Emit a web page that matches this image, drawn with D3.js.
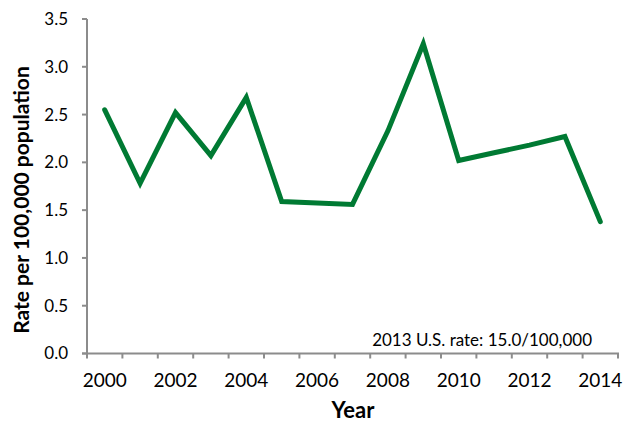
<!DOCTYPE html>
<html>
<head>
<meta charset="utf-8">
<script src="https://cdn.jsdelivr.net/npm/d3@7"></script>
<style>
  body { margin: 0; background: #fff; }
  text { font-family: Lato, "Open Sans", sans-serif; fill: #000; }
</style>
</head>
<body>
<svg id="chart" width="634" height="423"></svg>
<script>
'use strict';

var years = [2000, 2001, 2002, 2003, 2004, 2005, 2006, 2007, 2008, 2009, 2010, 2011, 2012, 2013, 2014];
var rates = [2.55, 1.78, 2.52, 2.07, 2.68, 1.59, 1.575, 1.56, 2.33, 3.24, 2.02, 2.10, 2.18, 2.27, 1.38];
var yTicks = [0, 0.5, 1.0, 1.5, 2.0, 2.5, 3.0, 3.5];
var xLabelYears = [2000, 2002, 2004, 2006, 2008, 2010, 2012, 2014];
var note = '2013 U.S. rate: 15.0/100,000';

var svg = d3.select('#chart');
var axisColor = '#8c8c8c';

var x = d3.scaleBand()
    .domain(years)
    .range([87, 618]);

var y = d3.scaleLinear()
    .domain([0, 3.5])
    .range([353.5, 19]);

// y axis
var yAxis = svg.append('g');
yAxis.append('line')
    .attr('x1', x.range()[0]).attr('x2', x.range()[0])
    .attr('y1', y(0)).attr('y2', y(3.5))
    .attr('stroke', axisColor).attr('stroke-width', 2);
yAxis.selectAll('line.tick')
    .data(yTicks)
    .enter()
    .append('line')
    .attr('class', 'tick')
    .attr('x1', x.range()[0] - 5).attr('x2', x.range()[0])
    .attr('y1', function (d) { return y(d); })
    .attr('y2', function (d) { return y(d); })
    .attr('stroke', axisColor).attr('stroke-width', 2);
yAxis.selectAll('text')
    .data(yTicks)
    .enter()
    .append('text')
    .attr('x', 68)
    .attr('y', function (d) { return y(d); })
    .attr('dy', '0.35em')
    .attr('text-anchor', 'end')
    .style('font-size', '17px')
    .text(function (d) { return d.toFixed(1); });

// x axis, ticks sit between categories
var bounds = years.map(function (d) { return x(d); }).concat([x.range()[1]]);
var xAxis = svg.append('g');
xAxis.append('line')
    .attr('x1', x.range()[0] - 5).attr('x2', x.range()[1] + 1)
    .attr('y1', y(0)).attr('y2', y(0))
    .attr('stroke', axisColor).attr('stroke-width', 2);
xAxis.selectAll('line.tick')
    .data(bounds)
    .enter()
    .append('line')
    .attr('class', 'tick')
    .attr('x1', function (d) { return d; })
    .attr('x2', function (d) { return d; })
    .attr('y1', y(0)).attr('y2', y(0) + 5)
    .attr('stroke', axisColor).attr('stroke-width', 2);
xAxis.selectAll('text')
    .data(xLabelYears)
    .enter()
    .append('text')
    .attr('x', function (d) { return x(d) + x.bandwidth() / 2; })
    .attr('y', 387)
    .attr('text-anchor', 'middle')
    .style('font-size', '19px')
    .text(function (d) { return d; });

// axis titles
svg.append('text')
    .attr('x', 353)
    .attr('y', 418)
    .attr('text-anchor', 'middle')
    .style('font-size', '22px')
    .style('font-weight', 'bold')
    .text('Year');

svg.append('text')
    .attr('transform', 'translate(29,200) rotate(-90)')
    .attr('text-anchor', 'middle')
    .style('font-size', '21px')
    .style('font-weight', 'bold')
    .text('Rate per 100,000 population');

// note
svg.append('text')
    .attr('x', 592)
    .attr('y', 346)
    .attr('text-anchor', 'end')
    .style('font-size', '17px')
    .text(note);

// line
var line = d3.line()
    .x(function (d, i) { return x(years[i]) + x.bandwidth() / 2; })
    .y(function (d) { return y(d); });

svg.append('path')
    .datum(rates)
    .attr('d', line)
    .attr('fill', 'none')
    .attr('stroke', '#007a33')
    .attr('stroke-width', 5)
    .attr('stroke-linecap', 'round')
    .attr('stroke-linejoin', 'miter');
</script>
</body>
</html>
